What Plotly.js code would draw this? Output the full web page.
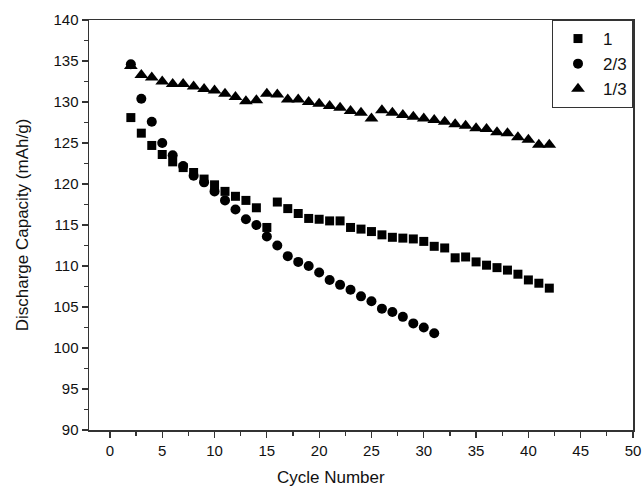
<!DOCTYPE html>
<html>
<head>
<meta charset="utf-8">
<script src="https://cdn.plot.ly/plotly-3.0.1.min.js"></script>
<style>html,body{margin:0;padding:0;background:#fff;}#chart{width:642px;height:490px;}</style>
</head>
<body>
<div id="chart"></div>
<script>
// Series "1"
const cycles1 = [2,3,4,5,6,7,8,9,10,11,12,13,14,15,16,17,18,19,20,21,22,23,24,25,26,27,28,29,30,31,32,33,34,35,36,37,38,39,40,41,42];
const cap1 = [128.1,126.2,124.7,123.6,122.7,122.0,121.4,120.6,119.9,119.1,118.5,118.0,117.1,114.7,117.8,117.0,116.4,115.8,115.7,115.5,115.5,114.7,114.5,114.2,113.8,113.5,113.4,113.3,113.0,112.4,112.2,111.0,111.1,110.5,110.1,109.8,109.5,109.0,108.3,107.9,107.3];
// Series "2/3"
const cycles23 = [2,3,4,5,6,7,8,9,10,11,12,13,14,15,16,17,18,19,20,21,22,23,24,25,26,27,28,29,30,31];
const cap23 = [134.6,130.4,127.6,125.0,123.5,122.2,121.0,120.2,119.1,118.0,116.9,115.7,115.0,113.6,112.5,111.2,110.5,110.0,109.2,108.3,107.7,107.1,106.3,105.7,104.8,104.4,103.8,103.0,102.5,101.8];
// Series "1/3"
const cycles13 = [2,3,4,5,6,7,8,9,10,11,12,13,14,15,16,17,18,19,20,21,22,23,24,25,26,27,28,29,30,31,32,33,34,35,36,37,38,39,40,41,42];
const cap13 = [134.4,133.3,133.0,132.5,132.2,132.2,131.9,131.6,131.4,131.0,130.6,130.1,130.2,131.0,130.9,130.3,130.3,130.0,129.8,129.5,129.3,128.9,128.7,128.0,129.0,128.7,128.4,128.2,128.0,127.8,127.6,127.3,127.1,126.8,126.7,126.3,126.2,125.7,125.4,124.8,124.8];
const seriesNames = ["1", "2/3", "1/3"];
const xTickVals = [0,5,10,15,20,25,30,35,40,45,50];
const yTickVals = [90,95,100,105,110,115,120,125,130,135,140];
const xTitle = "Cycle Number";
const yTitle = "Discharge Capacity (mAh/g)";

const font = "Liberation Sans, Arial, Helvetica, sans-serif";
const axisColor = "#333";

const traces = [
  {x: cycles1, y: cap1, name: seriesNames[0], mode: "markers", type: "scatter",
   marker: {symbol: "square", size: 9, color: "#000"}},
  {x: cycles23, y: cap23, name: seriesNames[1], mode: "markers", type: "scatter",
   marker: {symbol: "circle", size: 10, color: "#000"}},
  {x: cycles13, y: cap13, name: seriesNames[2], mode: "markers", type: "scatter",
   marker: {symbol: "triangle-up", size: 12, color: "#000"}}
];

const layout = {
  width: 642, height: 490,
  margin: {l: 89, r: 9, t: 20, b: 60, pad: 0},
  paper_bgcolor: "#fff", plot_bgcolor: "#fff",
  font: {family: font, color: "#111", size: 15},
  showlegend: true,
  legend: {x: 1, xanchor: "right", y: 1, yanchor: "top",
    bgcolor: "#fff", bordercolor: axisColor, borderwidth: 1,
    font: {family: font, size: 17, color: "#111"},
    itemwidth: 40, tracegroupgap: 0},
  annotations: [{
    text: xTitle, xref: "paper", yref: "paper", x: 0.445, y: -0.117,
    xanchor: "center", yanchor: "middle", showarrow: false,
    font: {family: font, size: 17, color: "#111"}
  }],
  xaxis: {
    range: [-2, 50], tickvals: xTickVals, ticktext: xTickVals.map(String),
    ticks: "outside", ticklen: 6, tickwidth: 1.2, tickcolor: axisColor,
    minor: {dtick: 2.5, ticks: "outside", ticklen: 4, tickwidth: 1.2, tickcolor: axisColor, showgrid: false},
    showline: true, linecolor: axisColor, linewidth: 1.5, mirror: true,
    showgrid: false, zeroline: false,
    tickfont: {family: font, size: 15, color: "#111"}
  },
  yaxis: {
    range: [90, 140], tickvals: yTickVals, ticktext: yTickVals.map(String),
    ticks: "outside", ticklen: 6, tickwidth: 1.2, tickcolor: axisColor,
    minor: {dtick: 2.5, ticks: "outside", ticklen: 4, tickwidth: 1.2, tickcolor: axisColor, showgrid: false},
    showline: true, linecolor: axisColor, linewidth: 1.5, mirror: true,
    showgrid: false, zeroline: false,
    tickfont: {family: font, size: 15, color: "#111"},
    title: {text: yTitle, font: {family: font, size: 17, color: "#111"}, standoff: 20}
  }
};

Plotly.newPlot("chart", traces, layout, {displayModeBar: false, staticPlot: true});
</script>
</body>
</html>
